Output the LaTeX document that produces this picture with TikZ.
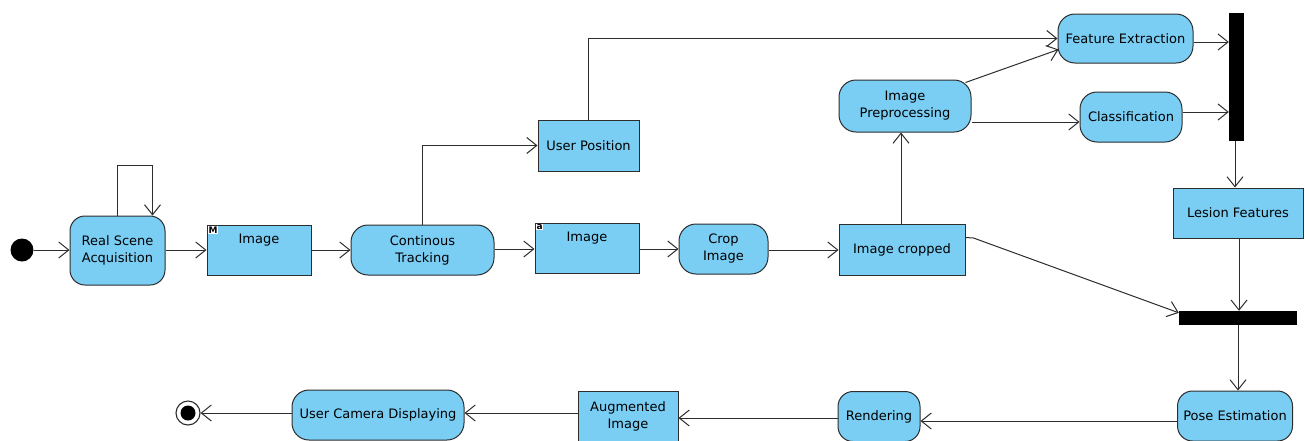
\documentclass[tikz,border=0pt]{standalone}
\usepackage{fontspec}
\setmainfont{DejaVu Sans}
\usetikzlibrary{arrows.meta,calc}
\definecolor{fillcol}{RGB}{122,206,244}
\definecolor{linecol}{RGB}{45,45,45}
\begin{document}
\begin{tikzpicture}[x=1pt,y=-1pt,
  every node/.style={font=\fontsize{13}{17}\selectfont, text=black},
  box/.style={draw=linecol, fill=fillcol, line width=1pt, align=center, inner sep=0pt},
  act/.style={box, rounded corners=15pt},
  obj/.style={box, rectangle},
  barnode/.style={fill=black, draw=none, inner sep=0pt},
  tag/.style={fill=white, inner sep=0.5pt, font=\fontsize{9}{9}\selectfont\bfseries, anchor=north west},
  arr/.style={draw=linecol, line width=1pt, -{Straight Barb[length=10pt,width=16pt,line width=1pt]}}
]
\useasboundingbox (0,0) rectangle (1305,440);

% nodes
\node[circle, fill=black, minimum size=23pt, inner sep=0pt] (init) at (22,250) {};
\node[act, minimum width=95pt, minimum height=69pt] (rsa) at (117.5,250.5) {Real Scene\\Acquisition};
\node[obj, minimum width=104pt, minimum height=50pt] (img1) at (259,250) {Image\\\strut};
\node[tag] (tagM) at ($(img1.north west)+(1.5,1.5)$) {M};
\node[act, rounded corners=17pt, minimum width=143pt, minimum height=50pt] (ct) at (422.5,250) {Continous\\Tracking};
\node[obj, minimum width=104pt, minimum height=50pt] (img2) at (587,248) {Image\\\strut};
\node[tag] (taga) at ($(img2.north west)+(1.5,1.5)$) {a};
\node[act, rounded corners=17pt, minimum width=89pt, minimum height=50pt] (crop) at (723.5,249) {Crop\\Image};
\node[obj, minimum width=126pt, minimum height=51pt] (imgc) at (902,249.5) {Image cropped};
\node[act, rounded corners=17pt, minimum width=132pt, minimum height=52pt] (ip) at (905,106) {Image\\Preprocessing};
\node[obj, minimum width=101pt, minimum height=51pt] (up) at (588.5,145.5) {User Position};
\node[act, rounded corners=17pt, minimum width=135pt, minimum height=49pt] (fe) at (1125.5,38.5) {Feature Extraction};
\node[act, rounded corners=17pt, minimum width=102pt, minimum height=50pt] (cls) at (1131,117) {Classification};
\node[barnode, minimum width=15pt, minimum height=128pt] (bar1) at (1236.5,77) {};
\node[obj, minimum width=130pt, minimum height=50pt] (lf) at (1238,213) {Lesion Features};
\node[barnode, minimum width=118pt, minimum height=14pt] (bar2) at (1238,318) {};
\node[act, rounded corners=15pt, minimum width=115pt, minimum height=50pt] (pose) at (1235,416) {Pose Estimation};
\node[act, rounded corners=15pt, minimum width=82pt, minimum height=50pt] (rend) at (879,416.5) {Rendering};
\node[obj, minimum width=100pt, minimum height=50pt] (aug) at (628,416) {Augmented\\Image};
\node[act, rounded corners=17pt, minimum width=172pt, minimum height=50pt] (ucd) at (378,415) {User Camera Displaying};
\node[circle, draw=linecol, line width=1.1pt, fill=white, minimum size=24pt, inner sep=0pt] (fin) at (188,413) {};
\node[circle, fill=black, minimum size=15pt, inner sep=0pt] (finc) at (fin) {};

% connectors
\draw[arr] (init) -- (init -| rsa.west);
\draw[arr] (rsa.north) -- ++(0,-50) -| ($(rsa.north)+(35,0)$);
\draw[arr] (rsa.east |- img1.west) -- (img1.west);
\draw[arr] (img1.east) -- (ct.west);
\draw[arr] ($(ct.east)+(0,-1)$) coordinate (c1) -- (c1 -| img2.west);
\draw[arr] ($(img2.east)+(0,1)$) coordinate (c2) -- (c2 -| crop.west);
\draw[arr] ($(crop.east)+(0,1)$) coordinate (c3) -- (c3 -| imgc.west);
\draw[arr] ($(imgc.north)+(-1,0)$) coordinate (c4) -- (c4 |- ip.south);
\draw[arr] (ct.north) |- (up.west);
\draw[arr] (up.north) |- (fe.west);
\draw[arr] ($(ip.north east)+(-6,3)$) -- ($(fe.west)+(1,11)$);
\draw[arr] ($(ip.east)+(0,16)$) coordinate (c5) -- (c5 -| cls.west);
\draw[arr] ($(fe.east)+(0,3.5)$) coordinate (c6) -- (c6 -| bar1.west);
\draw[arr] ($(cls.east)+(0,-5)$) coordinate (c7) -- (c7 -| bar1.west);
\draw[arr] ($(bar1.south)+(-1.5,0)$) coordinate (c8) -- (c8 |- lf.north);
\draw[arr] ($(lf.south)+(1,0)$) coordinate (c9) -- (c9 |- bar2.north);
\draw[arr] ($(imgc.east)+(0,-12)$) -- ++(8,0.5) -- ($(bar2.north west)+(0,2)$);
\draw[arr] (bar2.south) -- (bar2.south |- pose.north);
\draw[arr] ($(pose.west)+(0,5)$) coordinate (c10) -- (c10 -| rend.east);
\draw[arr] ($(rend.west)+(0,1.5)$) coordinate (c11) -- (c11 -| aug.east);
\draw[arr] ($(aug.west)+(0,-3)$) coordinate (c12) -- (c12 -| ucd.east);
\draw[arr] ($(ucd.west)+(0,-2)$) coordinate (c13) -- (c13 -| fin.east);
\end{tikzpicture}
\end{document}
